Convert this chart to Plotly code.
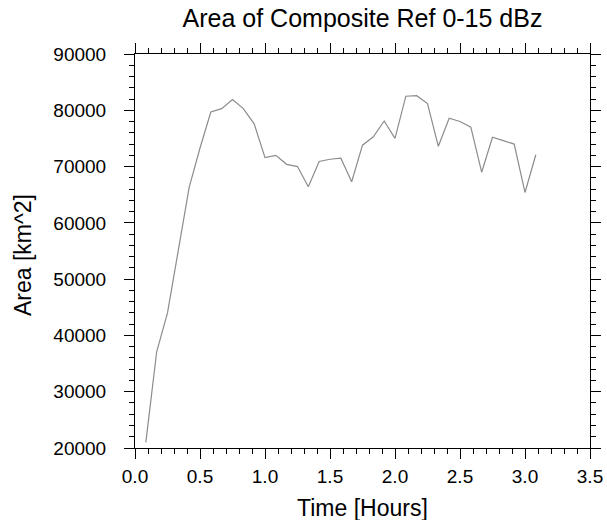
import plotly.graph_objects as go

time_hours = [0.0833, 0.1667, 0.25, 0.3333, 0.4167, 0.5, 0.5833, 0.6667, 0.75, 0.8333,
              0.9167, 1.0, 1.0833, 1.1667, 1.25, 1.3333, 1.4167, 1.5, 1.5833, 1.6667,
              1.75, 1.8333, 1.9167, 2.0, 2.0833, 2.1667, 2.25, 2.3333, 2.4167, 2.5,
              2.5833, 2.6667, 2.75, 2.8333, 2.9167, 3.0, 3.0833]
area_km2 = [21000, 37100, 44000, 55000, 66300, 73300, 79700, 80300, 81900, 80300,
            77600, 71600, 72000, 70400, 70000, 66400, 70900, 71300, 71500, 67300,
            73800, 75300, 78100, 75000, 82500, 82600, 81200, 73600, 78600, 78000,
            77000, 69000, 75200, 74600, 74000, 65400, 72100]

x_ticks = [0.0, 0.5, 1.0, 1.5, 2.0, 2.5, 3.0, 3.5]
x_ticklabels = ["0.0", "0.5", "1.0", "1.5", "2.0", "2.5", "3.0", "3.5"]
y_ticks = [20000, 30000, 40000, 50000, 60000, 70000, 80000, 90000]
y_ticklabels = ["20000", "30000", "40000", "50000", "60000", "70000", "80000", "90000"]

FONT = "Liberation Sans, Arial, Helvetica, sans-serif"

fig = go.Figure()
fig.add_trace(go.Scatter(x=time_hours, y=area_km2, mode="lines",
                         line=dict(color="#8c8c8c", width=1.2),
                         hoverinfo="x+y", showlegend=False))

axis_common = dict(
    showgrid=False, zeroline=False, automargin=False,
    showline=True, linecolor="black", linewidth=1,
    mirror="ticks", ticks="outside", ticklen=10, tickwidth=1, tickcolor="black",
    tickfont=dict(family=FONT, size=19, color="black"),
)

fig.update_xaxes(
    range=[0, 3.5], tickmode="array", tickvals=x_ticks, ticktext=x_ticklabels,
    minor=dict(dtick=0.1, ticks="outside", ticklen=5, tickwidth=1, tickcolor="black", showgrid=False),
    ticklabelstandoff=1,
    **axis_common,
)
fig.update_yaxes(
    range=[20000, 90000], tickmode="array", tickvals=y_ticks, ticktext=y_ticklabels,
    minor=dict(dtick=2000, ticks="outside", ticklen=5, tickwidth=1, tickcolor="black", showgrid=False),
    ticklabelstandoff=14,
    **axis_common,
)

fig.add_annotation(text="Time [Hours]", xref="paper", yref="paper",
                   x=0.5, y=-0.1523, xanchor="center", yanchor="middle",
                   showarrow=False, font=dict(family=FONT, size=23, color="black"))
fig.add_annotation(text="Area [km^2]", xref="paper", yref="paper",
                   x=-0.246, y=0.49, xanchor="center", yanchor="middle", textangle=-90,
                   showarrow=False, font=dict(family=FONT, size=23, color="black"))

fig.update_layout(
    width=607, height=520,
    margin=dict(l=135, r=17, t=54, b=72),
    paper_bgcolor="white", plot_bgcolor="white",
    title=dict(text="Area of Composite Ref 0-15 dBz", x=0.5972, xanchor="center",
               y=0.965, yanchor="middle",
               font=dict(family=FONT, size=25, color="black")),
)

# remove the default page margin so the 607x520 figure fills the window exactly
fig.write_html("out.html",
               config={"displayModeBar": False},
               post_script="document.body.style.margin='0';document.body.style.overflow='hidden';")
